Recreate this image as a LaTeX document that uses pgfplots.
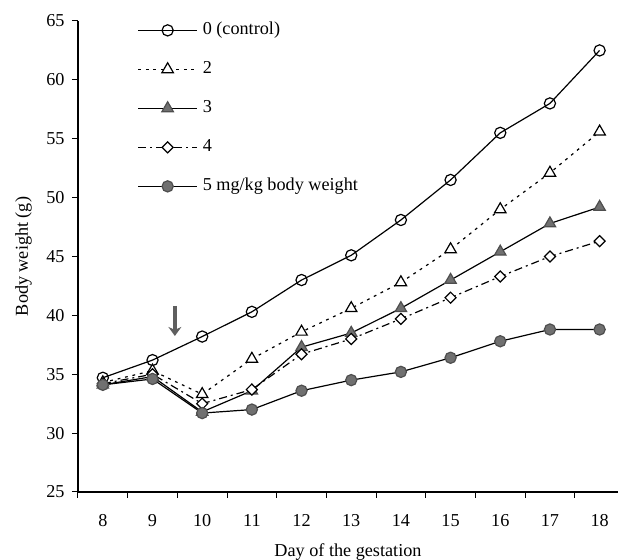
\documentclass[border=0pt]{standalone}
\usepackage{fontspec}
\setmainfont{Liberation Serif}
\usepackage{pgfplots}
\pgfplotsset{compat=1.18}
\usetikzlibrary{arrows.meta}
\definecolor{mkgray}{RGB}{112,112,112}
\definecolor{arrgray}{RGB}{95,95,95}

\begin{document}
\fontsize{9.1}{11}\selectfont
\begin{tikzpicture}
\begin{axis}[
  name=ax,
  scale only axis,
  width=270pt, height=235.5pt,
  xmin=7.5, xmax=18.37,
  ymin=25, ymax=65,
  axis lines*=left,
  axis line style={line width=0.6pt},
  clip=false,
  xtick={8,...,18},
  minor xtick={7.5,8.5,...,17.5},
  major x tick style={draw=none},
  minor x tick style={line width=0.5pt},
  ytick={25,30,...,65},
  tick align=outside,
  major tick length=3pt,
  minor tick length=3pt,
  tick style={black, line width=0.5pt},
  xticklabel style={yshift=-5pt},
  yticklabel style={xshift=-0.5pt},
  /pgf/number format/assume math mode=true,
  tick label style={font=\fontsize{9.1}{11}\selectfont},
  xlabel={Day of the gestation},
  ylabel={Body weight (g)},
  xlabel style={font=\fontsize{9.1}{11}\selectfont, yshift=-2pt},
  ylabel style={font=\fontsize{9.1}{11}\selectfont, yshift=1pt},
  every axis plot/.append style={line width=0.6pt, black},
  legend image code/.code={
    \draw[#1] (0pt,0pt) -- (29.5pt,0pt);
    \draw[#1, solid] plot coordinates {(14.75pt,0pt)};
  },
  legend style={draw=none, fill=none, at={(axis cs:8.57,65.3)},
    anchor=north west, row sep=11pt, column sep=2.5pt,
    nodes={inner sep=0pt, text height=6.5pt, text depth=2pt},
    font=\fontsize{9.1}{11}\selectfont},
  legend cell align=left,
]

% 0 (control)
\addplot[mark=o, mark size=2.8pt, mark options={fill=white, solid}]
  coordinates {(8,34.7) (9,36.2) (10,38.2) (11,40.3) (12,43.0) (13,45.1)
    (14,48.1) (15,51.5) (16,55.5) (17,58.0) (18,62.5)};
\addlegendentry{0 (control)}

% 2
\addplot[dash pattern=on 1.4pt off 2.4pt, mark=triangle*, mark size=3.3pt,
  mark options={fill=white, solid}]
  coordinates {(8,34.3) (9,35.3) (10,33.3) (11,36.3) (12,38.6) (13,40.6)
    (14,42.8) (15,45.6) (16,49.0) (17,52.1) (18,55.6)};
\addlegendentry{2}

% 3
\addplot[mark=triangle*, mark size=3.3pt, mark options={fill=mkgray, draw=mkgray!70!black, solid}]
  coordinates {(8,34.1) (9,34.8) (10,31.8) (11,33.6) (12,37.3) (13,38.5)
    (14,40.6) (15,43.0) (16,45.4) (17,47.8) (18,49.2)};
\addlegendentry{3}

% 4
\addplot[dash pattern=on 4pt off 2pt on 1pt off 2pt, mark=square*, mark size=1.95pt,
  mark options={fill=white, solid, rotate=45}]
  coordinates {(8,34.2) (9,35.0) (10,32.5) (11,33.7) (12,36.7) (13,38.0)
    (14,39.7) (15,41.5) (16,43.3) (17,45.0) (18,46.3)};
\addlegendentry{4}

% 5 mg/kg body weight
\addplot[mark=*, mark size=2.8pt, mark options={fill=mkgray, draw=mkgray!70!black, solid}]
  coordinates {(8,34.1) (9,34.6) (10,31.7) (11,32.0) (12,33.6) (13,34.5)
    (14,35.2) (15,36.4) (16,37.8) (17,38.8) (18,38.8)};
\addlegendentry{5 mg/kg body weight}

% treatment arrow
\draw[arrgray, line width=2pt, -{Stealth[length=4.5pt, width=6.5pt]}]
  (axis cs:9.45,40.8) -- (axis cs:9.45,38.25);
\end{axis}
\pgfresetboundingbox
\path[use as bounding box] (-39pt,-34pt) rectangle (270pt,246pt);
\end{tikzpicture}
\end{document}
